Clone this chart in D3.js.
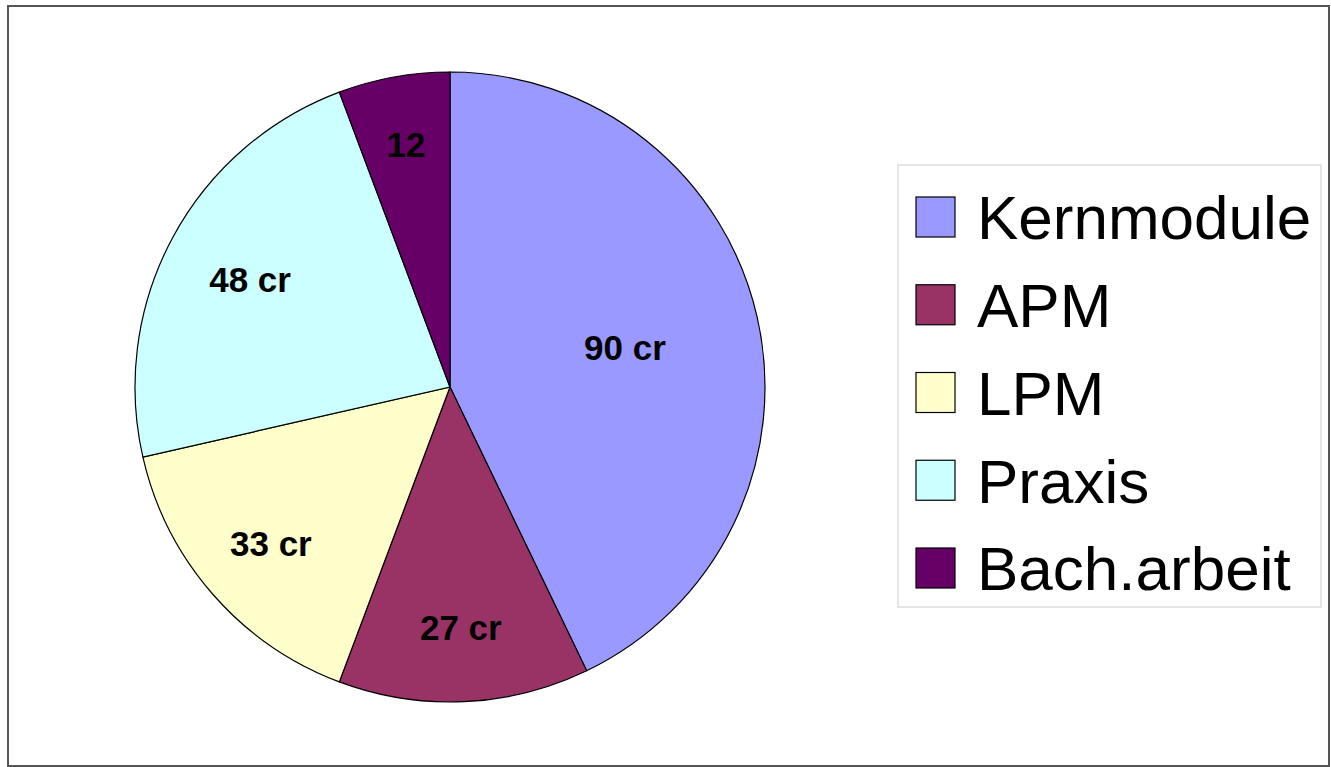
<!DOCTYPE html>
<html>
<head>
<meta charset="utf-8">
<script src="https://cdn.jsdelivr.net/npm/d3@7"></script>
<style>
  body { margin: 0; background: #fff; }
  svg { display: block; }
</style>
</head>
<body>
<svg id="chart" width="1331" height="767"></svg>
<script>
// Data
const categories = ["Kernmodule", "APM", "LPM", "Praxis", "Bach.arbeit"];
const credits = [90, 27, 33, 48, 12];
const labels = ["90 cr", "27 cr", "33 cr", "48 cr", "12"];
const colors = ["#9999FF", "#993366", "#FFFFCC", "#CCFFFF", "#660066"];

const svg = d3.select("#chart"),
    width = +svg.attr("width"),
    height = +svg.attr("height");

// outer frame
svg.append("rect")
    .attr("x", 8).attr("y", 6)
    .attr("width", 1321).attr("height", 760)
    .attr("fill", "#fff")
    .attr("stroke", "#555")
    .attr("stroke-width", 2);

const radius = 315;
const g = svg.append("g").attr("transform", "translate(450,387)");

const pie = d3.pie().sort(null).value(d => d.value);
const arc = d3.arc().innerRadius(0).outerRadius(radius);

// label sits a bit outside the sector's centroid (roughly how excel does it)
function labelPos(d) {
    const half = (d.endAngle - d.startAngle) / 2;
    const mid = d.startAngle + half;
    const r = 1.18 * 2 * radius * Math.sin(half) / (3 * half);
    return [r * Math.sin(mid), -r * Math.cos(mid)];
}

const data = categories.map((c, i) => ({ name: c, value: credits[i], label: labels[i], color: colors[i] }));
const arcs = pie(data);

g.selectAll("path")
    .data(arcs)
    .enter()
    .append("path")
    .attr("d", arc)
    .attr("fill", d => d.data.color)
    .attr("stroke", "#000")
    .attr("stroke-width", 1.2);

g.selectAll("text")
    .data(arcs)
    .enter()
    .append("text")
    .attr("transform", d => "translate(" + labelPos(d) + ")")
    .attr("text-anchor", "middle")
    .attr("dy", "0.36em")
    .style("font-family", "'Liberation Sans', Arial, sans-serif")
    .style("font-weight", "bold")
    .style("font-size", "35px")
    .attr("fill", "#000")
    .text(d => d.data.label);

// Legend
const legend = svg.append("g");
legend.append("rect")
    .attr("x", 898).attr("y", 165)
    .attr("width", 423).attr("height", 442)
    .attr("fill", "#fff")
    .attr("stroke", "#ddd")
    .attr("stroke-width", 1.5);

const rowY = d3.scalePoint().domain(categories).range([217, 568]);

const items = legend.selectAll("g.item")
    .data(data)
    .enter()
    .append("g")
    .attr("class", "item")
    .attr("transform", d => "translate(0," + rowY(d.name) + ")");

items.append("rect")
    .attr("x", 916).attr("y", -20)
    .attr("width", 39).attr("height", 40)
    .attr("fill", d => d.color)
    .attr("stroke", "#000")
    .attr("stroke-width", 1.2);

items.append("text")
    .attr("x", 977)
    .attr("y", 0)
    .attr("dy", "0.36em")
    .style("font-family", "'Liberation Sans', Arial, sans-serif")
    .style("font-size", "62px")
    .attr("fill", "#000")
    .text(d => d.name);
</script>
</body>
</html>
